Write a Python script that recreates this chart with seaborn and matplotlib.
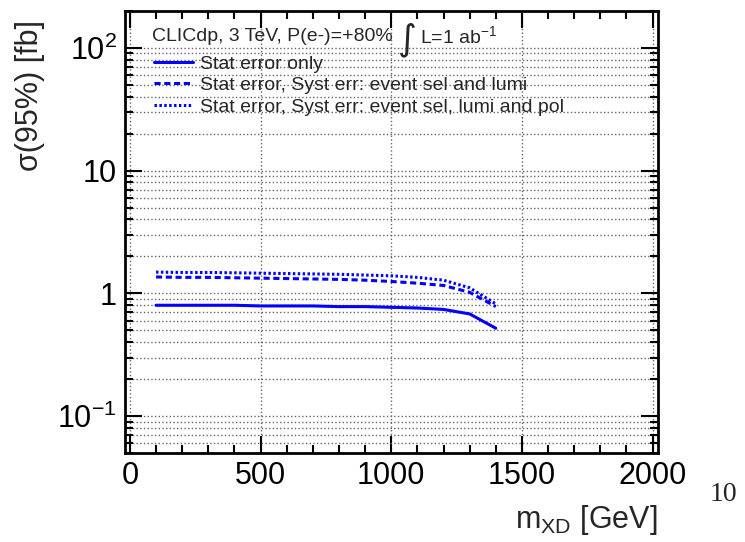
import numpy as np
import pandas as pd
import matplotlib
matplotlib.use("Agg")
import matplotlib.pyplot as plt
import matplotlib.ticker as mticker
import seaborn as sns

# masses (GeV) and 95% CL cross-section limits (fb)
mass = [100, 200, 300, 400, 500, 600, 700, 800, 900, 1000, 1100, 1200, 1300, 1400]
stat_only = [0.80, 0.80, 0.80, 0.80, 0.79, 0.79, 0.79, 0.78, 0.78, 0.77, 0.76, 0.74, 0.68, 0.52]
syst_sel_lumi = [1.36, 1.35, 1.35, 1.34, 1.33, 1.32, 1.31, 1.30, 1.28, 1.25, 1.21, 1.16, 1.02, 0.78]
syst_sel_lumi_pol = [1.49, 1.48, 1.48, 1.47, 1.46, 1.45, 1.44, 1.43, 1.41, 1.39, 1.35, 1.28, 1.11, 0.82]

labels = ["Stat error only",
          "Stat error, Syst err: event sel and lumi",
          "Stat error, Syst err: event sel, lumi and pol"]
styles = ["-", (0, (2, 1.2)), (0, (0.8, 0.8))]

sns.set_theme(style="ticks")
plt.rcParams['font.family'] = ['Liberation Sans', 'DejaVu Sans']
plt.rcParams['mathtext.fontset'] = 'custom'
plt.rcParams['mathtext.rm'] = 'Liberation Sans'
plt.rcParams['mathtext.it'] = 'Liberation Sans'

fig = plt.figure(figsize=(7.45, 5.42), dpi=100)
ax = fig.add_axes([0.168, 0.164, 0.715, 0.816])

for vals, lab, ls in zip([stat_only, syst_sel_lumi, syst_sel_lumi_pol], labels, styles):
    df = pd.DataFrame({"m": mass, "s": vals})
    sns.lineplot(data=df, x="m", y="s", ax=ax, color="#0000ff", linewidth=2.2,
                 linestyle=ls, label=lab)

ax.set_yscale("log")
ax.set_xlim(-18, 2020)
ax.set_ylim(0.05, 200)

ax.xaxis.set_major_locator(mticker.MultipleLocator(500))
ax.xaxis.set_minor_locator(mticker.MultipleLocator(100))
ax.yaxis.set_major_locator(mticker.LogLocator(base=10, numticks=10))
ax.yaxis.set_minor_locator(mticker.LogLocator(base=10, subs=np.arange(2, 10), numticks=20))
ax.yaxis.set_minor_formatter(mticker.NullFormatter())
ax.yaxis.set_major_formatter(mticker.FuncFormatter(
    lambda v, p: {0.1: r"$10^{-1}$", 1: "1", 10: "10", 100: r"$10^{2}$"}.get(round(v, 3), "")))

ax.tick_params(which="both", direction="in", top=True, right=True, width=1.5, colors="black")
ax.tick_params(which="major", length=12, labelsize=22, pad=6)
ax.tick_params(which="minor", length=6)
for sp in ax.spines.values():
    sp.set_linewidth(2)
    sp.set_color("black")

ax.grid(True, which="major", axis="x", linestyle=":", color="#666666", linewidth=1)
ax.grid(True, which="both", axis="y", linestyle=":", color="#666666", linewidth=1)

ax.set_xlabel(r"m$_{\mathrm{XD}}$ [GeV]", fontsize=22, loc="right", labelpad=8)
ax.set_ylabel("σ(95%) [fb]", fontsize=22, loc="top")
ax.yaxis.set_label_coords(-0.15, 0.98)

leg = ax.legend(loc="upper left", bbox_to_anchor=(0.054, 0.90), frameon=False, fontsize=14,
                handlelength=2.0, handletextpad=0.35, labelspacing=0.2, borderpad=0,
                borderaxespad=0)
ax.text(0.051, 0.943, "CLICdp, 3 TeV, P(e-)=+80%", transform=ax.transAxes,
        fontsize=14, va="center", ha="left")
ax.text(0.512, 0.935, "∫", transform=ax.transAxes, fontsize=26,
        family="DejaVu Sans", va="center", ha="left")
ax.text(0.553, 0.943, r"L=1 ab$^{-1}$", transform=ax.transAxes,
        fontsize=14, va="center", ha="left")

fig.text(0.953, 0.088, "10", fontsize=20, family="Liberation Serif", ha="left", va="center")

fig.savefig("out.png", dpi=100)
